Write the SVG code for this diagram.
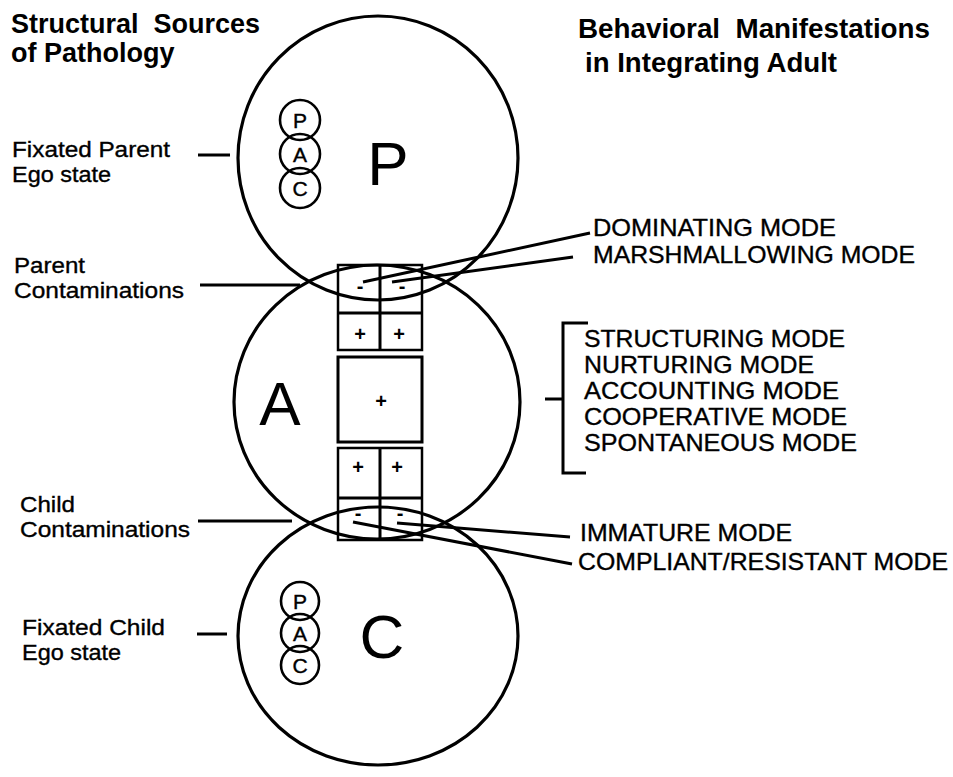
<svg xmlns="http://www.w3.org/2000/svg" width="953" height="777" viewBox="0 0 953 777">
<style>
.ln{fill:none;stroke:#000;stroke-width:3;stroke-linecap:butt}
.big{fill:none;stroke:#000;stroke-width:3.2}
.sm{fill:none;stroke:#000;stroke-width:2.6}
.bx{fill:#fff;stroke:#000;stroke-width:3}
.t{font-family:"Liberation Sans",Arial,sans-serif;font-size:24px;fill:#000;stroke:#000;stroke-width:0.35}
.tl{font-family:"Liberation Sans",Arial,sans-serif;font-size:22px;fill:#000;stroke:#000;stroke-width:0.35}
.h{font-family:"Liberation Sans",Arial,sans-serif;font-size:27px;font-weight:bold;fill:#000}
.L{font-family:"Liberation Sans",Arial,sans-serif;font-size:62px;fill:#000;text-anchor:middle}
.s{font-family:"Liberation Sans",Arial,sans-serif;font-size:21px;fill:#000;stroke:#000;stroke-width:0.4;text-anchor:middle}
.sign{font-family:"Liberation Sans",Arial,sans-serif;font-size:20px;font-weight:bold;fill:#000;text-anchor:middle}
</style>
<rect width="953" height="777" fill="#fff"/>
<g id="titles">
<text class="h" x="11" y="33">Structural&#160; Sources</text>
<text class="h" x="11" y="62">of Pathology</text>
<text class="h" x="578" y="38" textLength="352" lengthAdjust="spacingAndGlyphs">Behavioral&#160; Manifestations</text>
<text class="h" x="585" y="72" textLength="252" lengthAdjust="spacingAndGlyphs">in Integrating Adult</text>
</g>
<g id="node-A">
<ellipse class="big" cx="377" cy="402" rx="143" ry="137"/>
<text class="L" x="280" y="425">A</text>
</g>
<g id="node-P">
<ellipse class="big" cx="378" cy="158" rx="140" ry="142"/>
<text class="L" x="388" y="185">P</text>
<circle class="sm" cx="300" cy="120" r="20"/>
<circle class="sm" cx="300" cy="154" r="20"/>
<circle class="sm" cx="300" cy="188" r="20"/>
<text class="s" x="300" y="128">P</text>
<text class="s" x="300" y="162">A</text>
<text class="s" x="300" y="196">C</text>
</g>
<g id="node-C">
<ellipse class="big" cx="378" cy="636" rx="140" ry="129"/>
<text class="L" x="382" y="658">C</text>
<circle class="sm" cx="300" cy="601" r="19"/>
<circle class="sm" cx="300" cy="633" r="19"/>
<circle class="sm" cx="300" cy="665" r="19"/>
<text class="s" x="300" y="609">P</text>
<text class="s" x="300" y="641">A</text>
<text class="s" x="300" y="673">C</text>
</g>
<g id="adult-boxes">
<rect x="338" y="265" width="84" height="85" fill="none" stroke="#000" stroke-width="2.5"/>
<line class="ln" x1="380" y1="265" x2="380" y2="350" stroke-width="2.5"/>
<line class="ln" x1="338" y1="313" x2="422" y2="313" stroke-width="3.5"/>
<rect class="bx" x="338" y="357" width="84" height="85"/>
<rect x="338" y="448" width="84" height="92" fill="none" stroke="#000" stroke-width="2.5"/>
<line class="ln" x1="380" y1="448" x2="380" y2="540" stroke-width="2.5"/>
<line class="ln" x1="338" y1="498" x2="422" y2="498" stroke-width="2.5"/>
<text class="sign" x="360" y="293">-</text>
<text class="sign" x="402" y="293">-</text>
<text class="sign" x="360" y="341">+</text>
<text class="sign" x="399" y="341">+</text>
<text class="sign" x="381" y="408">+</text>
<text class="sign" x="358" y="474">+</text>
<text class="sign" x="397" y="474">+</text>
<text class="sign" x="358" y="520">-</text>
<text class="sign" x="400" y="520">-</text>
</g>
<g id="connectors">
<line class="ln" x1="198" y1="155" x2="230" y2="155"/>
<line class="ln" x1="200" y1="285" x2="300" y2="285"/>
<line class="ln" x1="198" y1="521" x2="292" y2="521"/>
<line class="ln" x1="197" y1="634" x2="227" y2="634"/>
<line class="ln" x1="590" y1="233" x2="363" y2="282"/>
<line class="ln" x1="573" y1="257" x2="392" y2="282"/>
<line class="ln" x1="397" y1="523" x2="570" y2="537"/>
<line class="ln" x1="353" y1="522" x2="572" y2="564"/>
<path class="ln" d="M588,323 H563 V473 H586 M545,399 H563"/>
</g>
<g id="labels">
<text class="tl" x="12" y="157" textLength="158" lengthAdjust="spacingAndGlyphs">Fixated Parent</text>
<text class="tl" x="12" y="182" textLength="99" lengthAdjust="spacingAndGlyphs">Ego state</text>
<text class="tl" x="14" y="273" textLength="71" lengthAdjust="spacingAndGlyphs">Parent</text>
<text class="tl" x="14" y="298" textLength="170" lengthAdjust="spacingAndGlyphs">Contaminations</text>
<text class="tl" x="20" y="512" textLength="55" lengthAdjust="spacingAndGlyphs">Child</text>
<text class="tl" x="20" y="537" textLength="170" lengthAdjust="spacingAndGlyphs">Contaminations</text>
<text class="tl" x="22" y="635" textLength="143" lengthAdjust="spacingAndGlyphs">Fixated Child</text>
<text class="tl" x="22" y="660" textLength="99" lengthAdjust="spacingAndGlyphs">Ego state</text>
<text class="t" x="593" y="236" textLength="243" lengthAdjust="spacingAndGlyphs">DOMINATING MODE</text>
<text class="t" x="593" y="263" textLength="322" lengthAdjust="spacingAndGlyphs">MARSHMALLOWING MODE</text>
<text class="t" x="584" y="347" textLength="261" lengthAdjust="spacingAndGlyphs">STRUCTURING MODE</text>
<text class="t" x="584" y="373" textLength="230" lengthAdjust="spacingAndGlyphs">NURTURING MODE</text>
<text class="t" x="584" y="399" textLength="255" lengthAdjust="spacingAndGlyphs">ACCOUNTING MODE</text>
<text class="t" x="584" y="425" textLength="263" lengthAdjust="spacingAndGlyphs">COOPERATIVE MODE</text>
<text class="t" x="584" y="451" textLength="273" lengthAdjust="spacingAndGlyphs">SPONTANEOUS MODE</text>
<text class="t" x="580" y="541" textLength="212" lengthAdjust="spacingAndGlyphs">IMMATURE MODE</text>
<text class="t" x="578" y="570" textLength="370" lengthAdjust="spacingAndGlyphs">COMPLIANT/RESISTANT MODE</text>
</g>
</svg>
